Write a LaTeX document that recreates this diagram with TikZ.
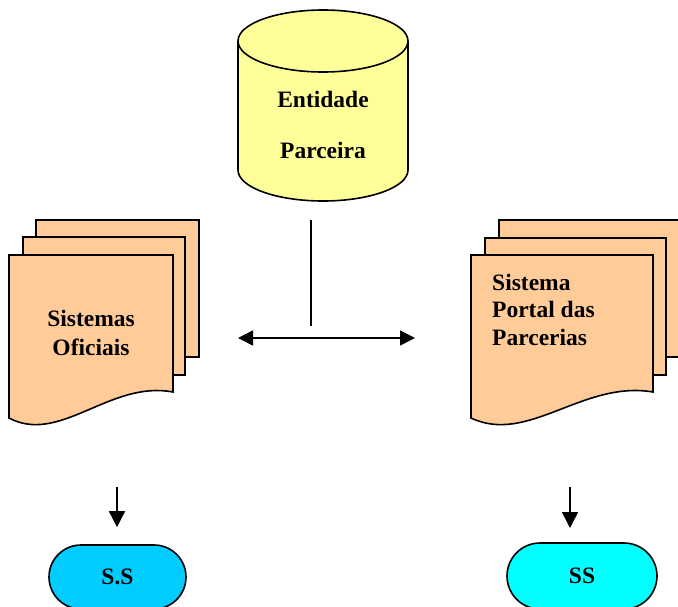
\documentclass[tikz,border=0pt]{standalone}
\usepackage{fontspec}
\setmainfont{Liberation Serif}
\usetikzlibrary{shapes.misc,arrows.meta}
\definecolor{cylfill}{HTML}{FFFF99}
\definecolor{pagefill}{HTML}{FFCC99}
\definecolor{ssblue}{HTML}{00CCFF}
\definecolor{sscyan}{HTML}{00FFFF}
\begin{document}
\begin{tikzpicture}[x=1pt,y=1pt,
  outline/.style={draw=black,line width=1.6pt,line join=miter},
  page/.style={outline,fill=pagefill},
  lbl/.style={font=\fontsize{23.5}{28}\selectfont\bfseries,inner sep=0pt},
  term/.style={rounded rectangle,outline,inner sep=0pt,font=\fontsize{23.5}{28}\selectfont\bfseries},
  conn/.style={draw=black,line width=1.5pt},
  dbl/.style={conn,{Triangle[length=15pt,width=15pt]}-{Triangle[length=15pt,width=15pt]}},
  down/.style={conn,-{Triangle[length=16pt,width=16pt]}}]
\useasboundingbox (0,0) rectangle (678,-606);
% cylinder
\path[outline,fill=cylfill] (238,-41) -- (238,-170)
  arc[start angle=180,end angle=360,x radius=85,y radius=31] -- (408,-41)
  arc[start angle=0,end angle=180,x radius=85,y radius=31] -- cycle;
\draw[outline] (238,-41) arc[start angle=180,end angle=360,x radius=85,y radius=31];
\node[lbl] (ent) at (323,-99) {Entidade};
\node[lbl] (par) at (323,-150) {Parceira};
% left documents
\path[page] (36,-220) rectangle (199,-357);
\path[page] (23,-237) rectangle (185,-375);
\path[page] (9,-255) -- (173,-255) -- (173,-392)
  .. controls (110,-380) and (60,-445) .. (9,-418) -- cycle;
\node[lbl,align=center,font=\fontsize{23.5}{29}\selectfont\bfseries] (so) at (91,-332.5) {Sistemas\\Oficiais};
% right documents
\path[page] (499,-220) rectangle (681,-357);
\path[page] (485,-238) rectangle (666,-375);
\path[page] (471,-255) -- (653,-255) -- (653,-392)
  .. controls (583,-380) and (528,-445) .. (471,-418) -- cycle;
\node[lbl,align=left,anchor=west,font=\fontsize{23.5}{27.5}\selectfont\bfseries] (sp) at (492,-309.5) {Sistema\\Portal das\\Parcerias};
% connectors
\coordinate (vtop) at (311,-220);
\coordinate (vbot) at (311,-326);
\draw[conn] (vtop) -- (vbot);
\coordinate (hl) at (238,-338);
\coordinate (hr) at (415,-338);
\draw[dbl] (hl) -- (hr);
% terminals
\node[term,fill=ssblue,minimum width=137pt,minimum height=64pt] (ss1) at (117.5,-577) {S.S};
\node[term,fill=sscyan,minimum width=150pt,minimum height=66pt] (ss2) at (582,-576) {SS};
\coordinate (la) at (117,-487);
\coordinate (ra) at (570,-487);
\draw[down] (la) -- ([xshift=-0.5pt,yshift=17pt]ss1.north);
\draw[down] (ra) -- (570,-528);
\end{tikzpicture}
\end{document}
